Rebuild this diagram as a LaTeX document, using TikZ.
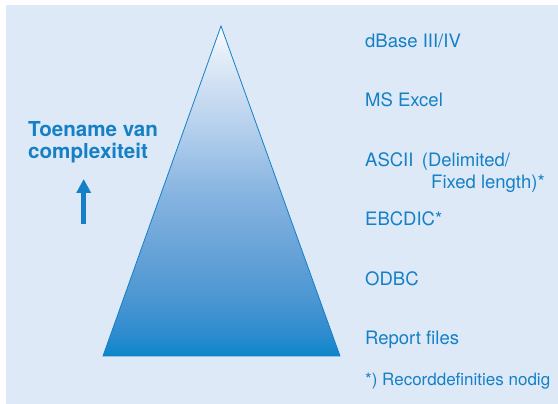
\documentclass[tikz,border=0pt]{standalone}
\usepackage{fontspec}
\setmainfont{TeX Gyre Heros}
\usetikzlibrary{arrows.meta}
\definecolor{bgblue}{HTML}{DDE9F7}
\definecolor{txtblue}{HTML}{1580C6}
\definecolor{pA}{HTML}{0A86CA}
\definecolor{pB}{HTML}{2C8BCE}
\definecolor{pC}{HTML}{4A96D2}
\definecolor{pD}{HTML}{6EA6DA}
\definecolor{pE}{HTML}{88B5E1}
\definecolor{pF}{HTML}{BAD3EE}
\definecolor{pG}{HTML}{CCDEF2}
\definecolor{pH}{HTML}{E6EFF9}
\tikzset{
  lbl/.style={anchor=base west, inner sep=0pt, text=txtblue, font=\fontsize{18.5}{22}\selectfont},
  note/.style={anchor=base west, inner sep=0pt, text=txtblue, font=\fontsize{17}{20}\selectfont},
  heading/.style={anchor=base west, inner sep=0pt, text=txtblue, align=left, font=\fontsize{20.6}{22}\selectfont\bfseries},
  band/.style={shading=axis, shading angle=0},
}
\begin{document}
\begin{tikzpicture}[x=1pt,y=1pt]
\useasboundingbox (0,0) rectangle (558,404);
\fill[white] (0,0) rectangle (558,404);
\fill[bgblue] (6,0) rectangle (558,399);
% pyramid
\coordinate (apex) at (221,378);
\coordinate (bl) at (103,48);
\coordinate (br) at (340,48);
\begin{scope}
\clip (apex) -- (br) -- (bl) -- cycle;
\shade[top color=white, bottom color=pH] (100,353.7) rectangle (345,379);
\shade[top color=pH, bottom color=pG] (100,313.7) rectangle (345,354);
\shade[top color=pG, bottom color=pF] (100,283.7) rectangle (345,314);
\shade[top color=pF, bottom color=pE] (100,212.7) rectangle (345,284);
\shade[top color=pE, bottom color=pD] (100,163.7) rectangle (345,213);
\shade[top color=pD, bottom color=pC] (100,103.7) rectangle (345,164);
\shade[top color=pC, bottom color=pB] (100,68.7) rectangle (345,104);
\shade[top color=pB, bottom color=pA] (100,47) rectangle (345,69);
\end{scope}
\draw[txtblue, line width=0.8pt, line join=miter] (apex) -- (br) -- (bl) -- cycle;
% heading and arrow
\node[heading] (head) at (28,245) {Toename van\\complexiteit};
\coordinate (arrlow) at (83.7,180);
\coordinate (arrtop) at (83.7,225);
\draw[txtblue, line width=4.8pt, -{Triangle[width=14pt,length=14pt]}] (arrlow) -- (arrtop);
% labels
\node[lbl] (dbase) at (365,356) {dBase III/IV};
\node[lbl] (excel) at (365,297) {MS Excel};
\node[lbl] (ascii) at (365,237) {ASCII\hspace{0.45em}(Delimited/};
\node[lbl] (fixed) at (431,215) {Fixed length)*};
\node[lbl] (ebcdic) at (365,178) {EBCDIC*};
\node[lbl] (odbc) at (365,118) {ODBC};
\node[lbl] (report) at (365,59) {Report files};
\node[note] (foot) at (365,18) {*) Recorddefinities nodig};
\end{tikzpicture}
\end{document}
